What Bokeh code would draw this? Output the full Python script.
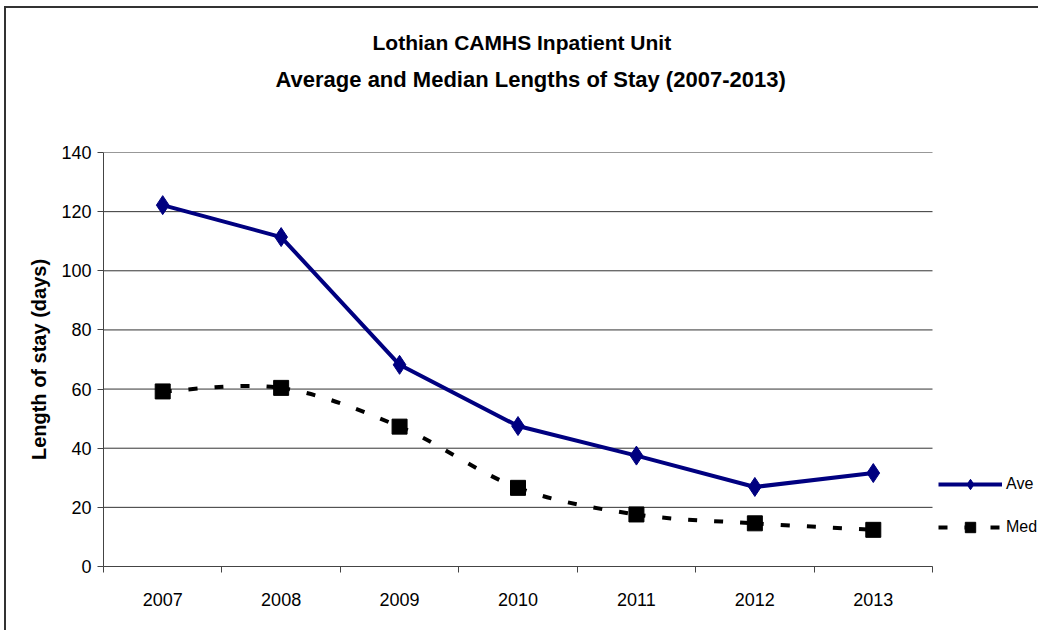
from bokeh.plotting import figure
from bokeh.models import (FixedTicker, Title, Legend, LegendItem, ColumnDataSource)
from bokeh.embed import file_html
from bokeh.resources import INLINE

# ---- data ----
years = ["2007", "2008", "2009", "2010", "2011", "2012", "2013"]
average_stay = [122.2, 111.4, 68.2, 47.5, 37.5, 26.9, 31.6]
median_stay = [59.2, 60.4, 47.3, 26.6, 17.6, 14.6, 12.4]
y_ticks = [0, 20, 40, 60, 80, 100, 120, 140]
title_line1 = "Lothian CAMHS Inpatient Unit"
title_line2 = "Average and Median Lengths of Stay (2007-2013)"
y_label = "Length of stay (days)"

FONT = "Liberation Sans"
n = len(years)
xpos = [i + 0.5 for i in range(n)]

# layout (pixels on the canvas)
CANVAS_W, CANVAS_H = 1034, 624
LEFT, TOP, BOTTOM = 97, 144, 66
PLOT_W = 829  # width of the category area; the frame extends further right for the legend
x_end = n * (CANVAS_W - LEFT) / PLOT_W

p = figure(width=CANVAS_W, height=CANVAS_H, output_backend="svg", toolbar_location=None,
           x_range=(0, x_end), y_range=(0, 140), title=title_line1,
           min_border_left=LEFT, min_border_right=0, min_border_top=TOP,
           min_border_bottom=BOTTOM)
p.margin = (6, 0, 0, 4)
p.styles = {"border-left": "2px solid #333333", "border-top": "2px solid #333333"}
p.background_fill_color = "white"
p.border_fill_color = "white"
p.outline_line_color = None

# titles: p.title (line 1) is outermost; added titles stack outward from the frame
p.title.text_font = FONT
p.title.text_font_size = "21px"
p.title.text_font_style = "bold"
p.title.align = "left"
p.title.text_color = "#000000"
p.title.standoff = 11
p.title.offset = 269
p.add_layout(Title(text=" ", text_font=FONT, text_font_size="21px", standoff=31), "above")
p.add_layout(Title(text=title_line2, text_font=FONT, text_font_size="22px",
                   text_font_style="bold", align="left", text_color="#000000",
                   standoff=10, offset=172), "above")

# axes
p.xaxis.ticker = FixedTicker(ticks=xpos, minor_ticks=list(range(n + 1)))
p.xaxis.bounds = (0, n)
p.xaxis.major_label_overrides = {x: y for x, y in zip(xpos, years)}
p.xaxis.major_tick_out = 0
p.xaxis.major_tick_in = 0
p.xaxis.minor_tick_out = 6
p.xaxis.minor_tick_in = 0
p.xaxis.minor_tick_line_color = "#444444"
p.xaxis.axis_line_color = "#444444"
p.xaxis.major_label_standoff = 20
p.xaxis.major_label_text_font = FONT
p.xaxis.major_label_text_font_size = "18px"
p.xaxis.major_label_text_color = "#000000"

p.yaxis.ticker = FixedTicker(ticks=y_ticks)
p.yaxis.major_tick_out = 6
p.yaxis.major_tick_in = 0
p.yaxis.minor_tick_line_color = None
p.yaxis.axis_line_color = "#444444"
p.yaxis.major_tick_line_color = "#444444"
p.yaxis.major_label_standoff = 6
p.yaxis.major_label_text_font = FONT
p.yaxis.major_label_text_font_size = "18px"
p.yaxis.major_label_text_color = "#000000"
p.yaxis.axis_label = y_label
p.yaxis.axis_label_text_font = FONT
p.yaxis.axis_label_text_font_size = "20px"
p.yaxis.axis_label_text_font_style = "bold"
p.yaxis.axis_label_text_color = "#000000"
p.yaxis.axis_label_standoff = 8

# horizontal gridlines limited to the category area
p.xgrid.grid_line_color = None
p.ygrid.grid_line_color = None
p.segment(x0=[0] * len(y_ticks), x1=[n] * len(y_ticks), y0=y_ticks, y1=y_ticks,
          line_color="#333333", line_width=1)

# median: smoothed dashed curve (Catmull-Rom -> cubic Bezier)
ext_x = [xpos[0]] + xpos + [xpos[-1]]
ext_y = [median_stay[0]] + median_stay + [median_stay[-1]]
bz = dict(x0=[], y0=[], x1=[], y1=[], cx0=[], cy0=[], cx1=[], cy1=[])
for i in range(1, n):
    x0, y0 = ext_x[i], ext_y[i]
    x1, y1 = ext_x[i + 1], ext_y[i + 1]
    bz["x0"].append(x0); bz["y0"].append(y0)
    bz["x1"].append(x1); bz["y1"].append(y1)
    bz["cx0"].append(x0 + (ext_x[i + 1] - ext_x[i - 1]) / 6)
    bz["cy0"].append(y0 + (ext_y[i + 1] - ext_y[i - 1]) / 6)
    bz["cx1"].append(x1 - (ext_x[i + 2] - ext_x[i]) / 6)
    bz["cy1"].append(y1 - (ext_y[i + 2] - ext_y[i]) / 6)
med_curve = p.bezier(x0="x0", y0="y0", x1="x1", y1="y1", cx0="cx0", cy0="cy0",
                     cx1="cx1", cy1="cy1", source=ColumnDataSource(bz),
                     line_color="black", line_width=4, line_dash="9 17")
med_pts = p.scatter(xpos, median_stay, marker="square", size=15, fill_color="black",
                    line_color="black")

# average: solid navy line with diamonds
ave_line = p.line(xpos, average_stay, line_color="#000080", line_width=4)
ave_pts = p.scatter(xpos, average_stay, marker="diamond", size=19, fill_color="#000080",
                    line_color="#000080")

legend = Legend(items=[LegendItem(label="Ave", renderers=[ave_line, ave_pts]),
                       LegendItem(label="Med", renderers=[med_curve, med_pts])],
                location=(835, 26), orientation="vertical")
legend.border_line_color = None
legend.background_fill_alpha = 0
legend.padding = 0
legend.margin = 0
legend.spacing = 17
legend.glyph_width = 64
legend.glyph_height = 26
legend.label_height = 26
legend.label_standoff = 4
legend.label_text_font = FONT
legend.label_text_font_size = "16px"
legend.label_text_color = "#000000"
p.add_layout(legend)

open("out.html", "w").write(file_html(p, INLINE))
